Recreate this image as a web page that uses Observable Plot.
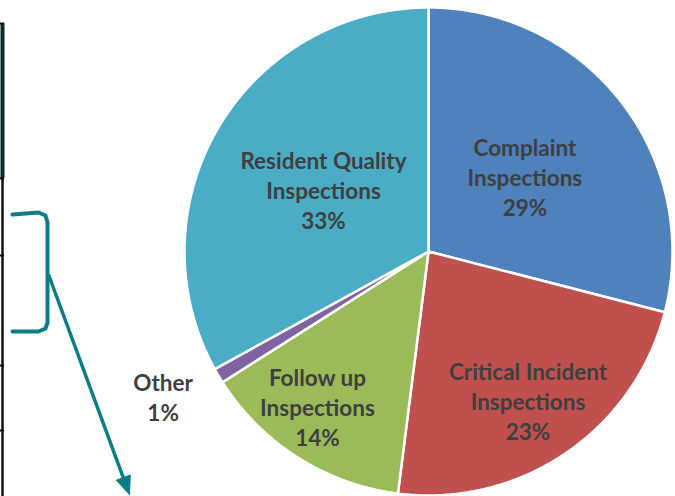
<!DOCTYPE html>
<html><head><meta charset="utf-8">
<script src="https://cdn.jsdelivr.net/npm/d3@7"></script>
<script src="https://cdn.jsdelivr.net/npm/@observablehq/plot@0.6"></script>
<style>html,body{margin:0;padding:0;background:#fff}</style>
</head><body><div id="chart"></div>
<script>
// ---- data ----
const categories = ["Complaint Inspections", "Critical Incident Inspections", "Follow up Inspections", "Other", "Resident Quality Inspections"];
const labelLines = [["Complaint", "Inspections"], ["Critical Incident", "Inspections"], ["Follow up", "Inspections"], ["Other"], ["Resident Quality", "Inspections"]];
const shares = [29, 23, 14, 1, 33];
const colors = ["#4F81BD", "#C0504D", "#9BBB59", "#8064A2", "#4BACC6"];

// ---- layout (pixel space) ----
const W = 675, H = 496;
const cx = 428, cy = 251, R = 244;
const labelRadius = [0.5, 0.735, 0.78, 1.24, 0.5];
const labelAngleShift = [0, 0.5, 3.3, 1.9, 0]; // degrees, clockwise

// annotation shapes (decorations from the slide)
const bracketPts = [[12, 214], [38, 212], [45, 215], [47, 222], [47, 322], [45, 328], [38, 331], [12, 331]];
const arrowFrom = [48, 274], arrowTip = [129, 494];
const tableRuleYs = [23, 178, 255, 365, 430];

// ---- geometry from data ----
const pie = d3.pie().sort(null).value(d => d.share);
const rows = categories.map((c, i) => ({name: c, share: shares[i], color: colors[i], lines: labelLines[i], k: labelRadius[i], s: labelAngleShift[i]}));
const arcs = pie(rows);

const slicePts = [];
arcs.forEach(a => {
  const n = Math.max(4, Math.ceil((a.endAngle - a.startAngle) / 0.01));
  slicePts.push({name: a.data.name, color: a.data.color, x: cx, y: cy});
  for (let j = 0; j <= n; j++) {
    const t = a.startAngle + (a.endAngle - a.startAngle) * j / n;
    slicePts.push({name: a.data.name, color: a.data.color, x: cx + R * Math.sin(t), y: cy - R * Math.cos(t)});
  }
  slicePts.push({name: a.data.name, color: a.data.color, x: cx, y: cy});
});

const labels = arcs.map(a => {
  const m = (a.startAngle + a.endAngle) / 2 + a.data.s * Math.PI / 180;
  return {
    x: cx + a.data.k * R * Math.sin(m),
    y: cy - a.data.k * R * Math.cos(m),
    text: [...a.data.lines, a.data.share + "%"].join("\n")
  };
});

// arrow head triangle
const dx = arrowTip[0] - arrowFrom[0], dy = arrowTip[1] - arrowFrom[1];
const L = Math.hypot(dx, dy), ux = dx / L, uy = dy / L;
const hl = 18, hw = 7.5;
const base = [arrowTip[0] - ux * hl, arrowTip[1] - uy * hl];
const head = [
  {x: arrowTip[0], y: arrowTip[1]},
  {x: base[0] - uy * hw, y: base[1] + ux * hw},
  {x: base[0] + uy * hw, y: base[1] - ux * hw},
  {x: arrowTip[0], y: arrowTip[1]}
];

const teal = "#0E7C84";

const chart = Plot.plot({
  width: W, height: H,
  marginTop: 0, marginRight: 0, marginBottom: 0, marginLeft: 0,
  x: {domain: [0, W], range: [0, W], axis: null},
  y: {domain: [0, H], range: [0, H], axis: null},
  color: {type: "identity"},
  style: {background: "#fff", overflow: "visible"},
  marks: [
    // table fragment on the left
    Plot.ruleX([2], {y1: 23, y2: H, stroke: "#111", strokeWidth: 2.5}),
    Plot.ruleX([2], {y1: 23, y2: 178, stroke: "#0b2a2e", strokeWidth: 4}),
    Plot.ruleY(tableRuleYs, {x1: 0, x2: 4, stroke: "#111", strokeWidth: 2}),
    // pie slices
    Plot.line(slicePts, {x: "x", y: "y", z: "name", fill: "color", stroke: "#fff", strokeWidth: 2.5, strokeLinejoin: "round", curve: "linear"}),
    // labels
    Plot.text(labels, {x: "x", y: "y", text: "text", fill: "#3f3f3f", fontSize: 22.5, fontWeight: "bold", fontFamily: "Lato", lineHeight: 1.33, textAnchor: "middle"}),
    // bracket and arrow
    Plot.line(bracketPts.map(p => ({x: p[0], y: p[1]})), {x: "x", y: "y", stroke: teal, strokeWidth: 4, strokeLinejoin: "round", curve: "linear"}),
    Plot.link([{x1: arrowFrom[0], y1: arrowFrom[1], x2: base[0], y2: base[1]}], {x1: "x1", y1: "y1", x2: "x2", y2: "y2", stroke: teal, strokeWidth: 3.5}),
    Plot.line(head, {x: "x", y: "y", fill: teal, stroke: teal, strokeWidth: 1})
  ]
});
document.getElementById("chart").appendChild(chart);
</script>
</body></html>
